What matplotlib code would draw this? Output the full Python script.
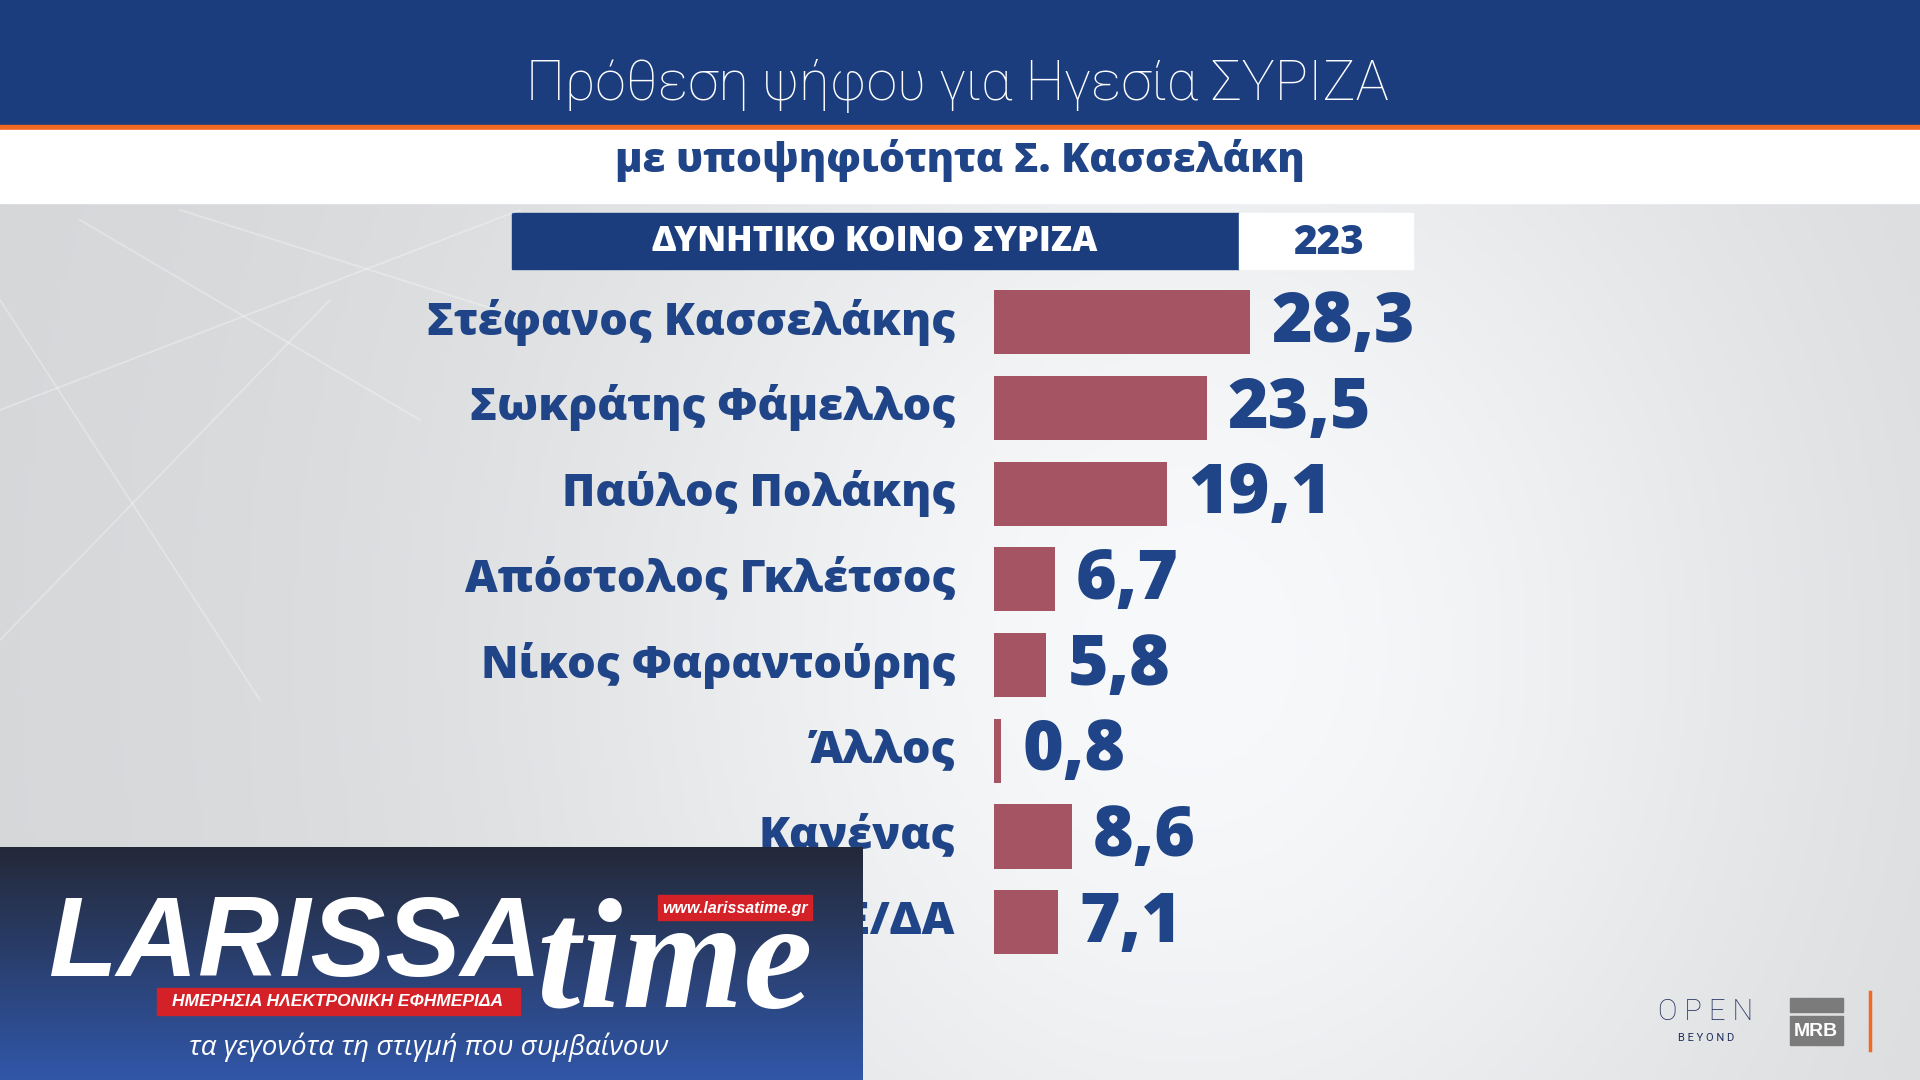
import numpy as np
import matplotlib.pyplot as plt
from matplotlib.patches import Rectangle

W, H = 1920, 1080

# ── data ──
names = [
    "Στέφανος Κασσελάκης",
    "Σωκράτης Φάμελλος",
    "Παύλος Πολάκης",
    "Απόστολος Γκλέτσος",
    "Νίκος Φαραντούρης",
    "Άλλος",
    "Κανένας",
    "ΔΞ/ΔΑ",
]
values = [28.3, 23.5, 19.1, 6.7, 5.8, 0.8, 8.6, 7.1]
value_labels = [f"{v:.1f}".replace(".", ",") for v in values]

title = "Πρόθεση ψήφου για Ηγεσία ΣΥΡΙΖΑ"
subtitle = "με υποψηφιότητα Σ. Κασσελάκη"
sample_label = "ΔΥΝΗΤΙΚΟ ΚΟΙΝΟ ΣΥΡΙΖΑ"
sample_size = "223"

NAVY = "#1b3d7e"
TEXT_BLUE = "#1f4487"
ORANGE = "#f26a22"
BAR = "#a45462"

BOLD = ["Open Sans", "DejaVu Sans"]
NARROW = ["Liberation Sans Narrow", "Liberation Sans", "DejaVu Sans"]

fig = plt.figure(figsize=(19.2, 10.8), dpi=100)


def px_axes(x0, y0, w, h, z=0):
    """axes from top-left pixel box"""
    ax = fig.add_axes([x0 / W, 1 - (y0 + h) / H, w / W, h / H], zorder=z)
    ax.set_xlim(0, w)
    ax.set_ylim(h, 0)
    ax.axis("off")
    return ax


# ── background ──
bg = px_axes(0, 0, W, H)
xx, yy = np.meshgrid(np.linspace(0, 1, 400), np.linspace(0, 1, 225))
glow = np.exp(-((xx - 0.62) ** 2) / 0.12 - ((yy - 0.6) ** 2) / 0.5)
lum = 0.835 + 0.135 * glow
img = np.dstack([lum, lum + 0.006, lum + 0.014]).clip(0, 1)
bg.imshow(img, extent=[0, W, H, 0], aspect="auto")
for (x0, y0, x1, y1) in [(0, 410, 520, 210), (0, 640, 330, 300), (80, 220, 420, 420),
                         (0, 300, 260, 700), (180, 210, 560, 330)]:
    bg.plot([x0, x1], [y0, y1], color="white", lw=1.3, alpha=0.3)

bg.add_patch(Rectangle((0, 0), W, 125, color=NAVY))
bg.add_patch(Rectangle((0, 125), W, 5, color=ORANGE))
bg.add_patch(Rectangle((0, 130), W, 73, color="white"))
bg.text(957, 86, title, color="white", fontsize=40, family=["Roboto", "DejaVu Sans"],
        weight="light", ha="center", va="center")
bg.text(960, 160, subtitle, color=TEXT_BLUE, fontsize=29.5, family=BOLD,
        weight=800, ha="center", va="center")

bg.add_patch(Rectangle((512, 213), 727, 56, color=NAVY))
bg.add_patch(Rectangle((1239, 213), 174, 56, color="white"))
bg.text(875, 242, sample_label, color="white", fontsize=25, family=BOLD,
        weight=800, ha="center", va="center")
bg.text(1328, 243, sample_size, color=TEXT_BLUE, fontsize=29, family=BOLD,
        weight=800, ha="center", va="center")

# ── bottom-right logos ──
bg.text(1706, 1012, "O P E N", color="#1f2d5c", fontsize=21,
        family=["Roboto", "DejaVu Sans"], weight="light", ha="center", va="center")
bg.text(1706, 1038, "B E Y O N D", color="#1f2d5c", fontsize=8,
        family=["Roboto", "DejaVu Sans"], ha="center", va="center")
bg.add_patch(Rectangle((1790, 998), 53, 14, color="#7b7b7b"))
bg.add_patch(Rectangle((1790, 1016), 53, 29, color="#7b7b7b"))
bg.text(1816, 1032, "MRB", color="white", fontsize=14, family=NARROW,
        weight="bold", ha="center", va="center")
bg.plot([1870, 1870], [992, 1050], color=ORANGE, lw=2.5)

# ── bars ──
px_per_unit = 9.05
row_h = 85.7
ax = fig.add_axes([994 / W, 1 - 965 / H, 700 / W, 8 * row_h / H], zorder=2)
ax.set_xlim(0, 700 / px_per_unit)
ax.set_ylim(len(names) - 0.5, -0.5)
ax.axis("off")
pos = np.arange(len(names))
ax.barh(pos, values, height=0.75, color=BAR)
for i, (name, v, lab) in enumerate(zip(names, values, value_labels)):
    ax.text(-4.3, i, name, ha="right", va="center", color=TEXT_BLUE,
            fontsize=32.5, family=BOLD, weight=800)
    ax.text(v + 2.3, i + 0.02, lab, ha="left", va="center", color=TEXT_BLUE,
            fontsize=50, family=BOLD, weight=800)

# ── larissatime overlay ──
lg = px_axes(0, 847, 863, 233, z=5)
grad = np.linspace(0, 1, 100)[:, None]
top = np.array([0.14, 0.16, 0.22])
bot = np.array([0.19, 0.34, 0.66])
lg.imshow((top + (bot - top) * grad[..., None]) * np.ones((1, 2, 1)),
          extent=[0, 863, 233, 0], aspect="auto")
lg.text(48, 129, "LARISSA", color="white", fontsize=81, family=NARROW,
        weight="bold", style="italic", ha="left", va="baseline")
lg.text(536, 160, "time", color="white", fontsize=112,
        family=["Liberation Serif", "DejaVu Serif"], weight="bold", style="italic",
        ha="left", va="baseline")
lg.add_patch(Rectangle((157, 141), 363, 27, color="#d42027"))
lg.text(338, 155, "ΗΜΕΡΗΣΙΑ ΗΛΕΚΤΡΟΝΙΚΗ ΕΦΗΜΕΡΙΔΑ", color="white", fontsize=12.5,
        family=NARROW, weight="bold", style="italic", ha="center", va="center")
lg.add_patch(Rectangle((658, 48), 154, 25, color="#d42027"))
lg.text(735, 61, "www.larissatime.gr", color="white", fontsize=11.5,
        family=NARROW, weight="bold", style="italic", ha="center", va="center")
lg.text(429, 200, "τα γεγονότα τη στιγμή που συμβαίνουν", color="white", fontsize=20,
        family=["Open Sans", "DejaVu Sans"], style="italic", ha="center", va="center")

fig.savefig("out.png", dpi=100)
